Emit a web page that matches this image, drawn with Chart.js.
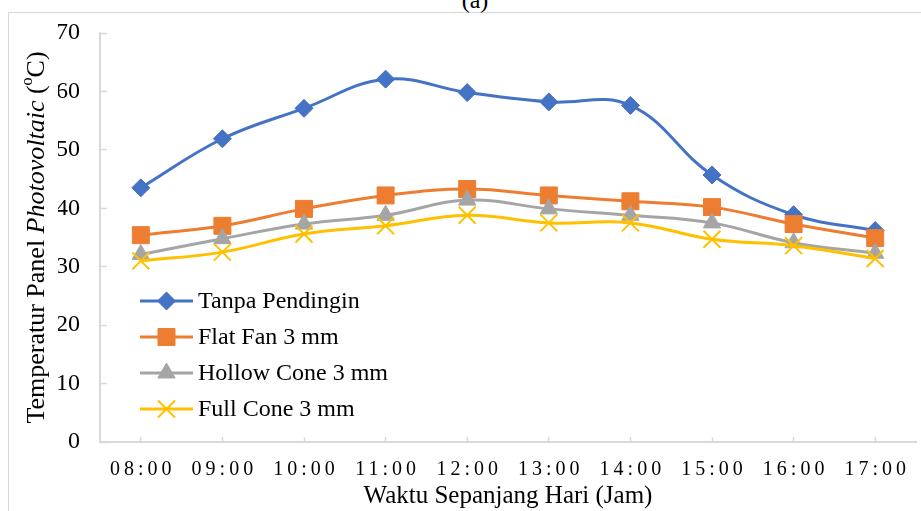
<!DOCTYPE html>
<html>
<head>
<meta charset="utf-8">
<script src="https://cdn.jsdelivr.net/npm/chart.js@4/dist/chart.umd.min.js"></script>
<style>
    body { margin: 0; background: #fff; }
    #wrap { position: relative; width: 921px; height: 511px; overflow: hidden; }
    #frame { position: absolute; left: 8px; top: 12px; width: 930px; height: 520px; border: 1.5px solid #d9d9d9; }
    #label { position: absolute; left: 0; width: 950px; top: -13px; text-align: center; font: 24px "Liberation Serif", serif; color: #000; }
    canvas { position: absolute; left: 0; top: 0; }
</style>
</head>
<body>
<div id="wrap">
    <div id="frame"></div>
    <div id="label">(a)</div>
    <canvas id="tempChart" width="921" height="511"></canvas>
</div>
<script>
// ============================================
// DATA
// ============================================
const jam = ['08:00', '09:00', '10:00', '11:00', '12:00', '13:00', '14:00', '15:00', '16:00', '17:00'];

const tanpaPendingin = [43.5, 51.9, 57.1, 62.1, 59.8, 58.2, 57.6, 45.7, 38.9, 36.2];
const flatFan = [35.4, 37.0, 39.9, 42.2, 43.3, 42.2, 41.2, 40.2, 37.3, 34.9];
const hollowCone = [32.1, 34.8, 37.3, 38.8, 41.4, 39.9, 38.8, 37.5, 34.1, 32.3];
const fullCone = [31.0, 32.5, 35.6, 37.0, 38.8, 37.5, 37.5, 34.7, 33.6, 31.4];

const seriesNames = ['Tanpa Pendingin', 'Flat Fan 3 mm', 'Hollow Cone 3 mm', 'Full Cone 3 mm'];
const seriesColors = ['#4472C4', '#ED7D31', '#A5A5A5', '#FFC000'];

const FONT = '"Liberation Serif", "Times New Roman", serif';

// ============================================
// DATASETS
// ============================================
const markerStyles = [
    { pointStyle: 'rectRot', pointRadius: 9, pointBorderWidth: 1 },
    { pointStyle: 'rect', pointRadius: 12, pointBorderWidth: 1 },
    { pointStyle: 'triangle', pointRadius: 10, pointBorderWidth: 1 },
    { pointStyle: 'crossRot', pointRadius: 12, pointBorderWidth: 2 }
];

const seriesData = [tanpaPendingin, flatFan, hollowCone, fullCone];

const datasets = seriesData.map((values, i) => ({
    label: seriesNames[i],
    data: values,
    borderColor: seriesColors[i],
    backgroundColor: seriesColors[i],
    pointBackgroundColor: seriesColors[i],
    pointBorderColor: seriesColors[i],
    borderWidth: 3,
    tension: 0.4,
    order: 4 - i,
    ...markerStyles[i]
}));

// ============================================
// PLUGINS
// ============================================
// wider letter spacing on the hour labels
const spacedTicks = {
    id: 'spacedTicks',
    beforeDraw(chart) {
        const scale = chart.scales.x;
        if (scale._spaced) return;
        const orig = scale.drawLabels.bind(scale);
        scale.drawLabels = function(area) {
            const ctx = this.ctx;
            ctx.save();
            ctx.letterSpacing = '4px';
            ctx.translate(2, 0);
            orig(area);
            ctx.restore();
        };
        scale._spaced = true;
    }
};

// y title with italic word and superscript
const yTitle = {
    id: 'yTitle',
    afterDraw(chart) {
        const ctx = chart.ctx;
        const parts = [
            { text: 'Temperatur Panel ', font: '26px ' + FONT, dy: 0 },
            { text: 'Photovoltaic', font: 'italic 26px ' + FONT, dy: 0 },
            { text: ' (', font: '26px ' + FONT, dy: 0 },
            { text: 'o', font: '16px ' + FONT, dy: -9 },
            { text: 'C)', font: '26px ' + FONT, dy: 0 }
        ];
        let total = 0;
        parts.forEach(p => { ctx.font = p.font; p.w = ctx.measureText(p.text).width; total += p.w; });
        ctx.save();
        ctx.translate(36, (chart.chartArea.top + chart.chartArea.bottom) / 2);
        ctx.rotate(-Math.PI / 2);
        ctx.fillStyle = '#000';
        ctx.textBaseline = 'middle';
        let x = -total / 2;
        parts.forEach(p => {
            ctx.font = p.font;
            ctx.fillText(p.text, x, p.dy + 1);
            x += p.w;
        });
        ctx.restore();
    }
};

// legend with line + marker, inside the plot
const lineLegend = {
    id: 'lineLegend',
    afterDraw(chart) {
        const ctx = chart.ctx;
        const x0 = 140, x1 = 193, top = 301, step = 36;
        ctx.save();
        datasets.forEach((ds, i) => {
            const y = top + i * step;
            ctx.strokeStyle = ds.borderColor;
            ctx.lineWidth = 3;
            ctx.beginPath();
            ctx.moveTo(x0, y);
            ctx.lineTo(x1, y);
            ctx.stroke();
            ctx.fillStyle = ds.backgroundColor;
            ctx.lineWidth = ds.pointBorderWidth;
            Chart.helpers.drawPoint(ctx, {
                pointStyle: ds.pointStyle,
                radius: ds.pointRadius,
                rotation: 0,
                borderWidth: ds.pointBorderWidth
            }, (x0 + x1) / 2, y);
            ctx.fillStyle = '#000';
            ctx.font = '24px ' + FONT;
            ctx.textBaseline = 'middle';
            ctx.fillText(ds.label, 198, y + 1);
        });
        ctx.restore();
    }
};

// ============================================
// CHART
// ============================================
const ctx = document.getElementById('tempChart').getContext('2d');
const tempChart = new Chart(ctx, {
    type: 'line',
    data: {
        labels: jam,
        datasets: datasets
    },
    options: {
        responsive: false,
        animation: false,
        layout: {
            autoPadding: false,
            padding: { left: 58, right: 5, top: 33, bottom: 0 }
        },
        plugins: {
            legend: { display: false },
            tooltip: { enabled: false }
        },
        scales: {
            x: {
                offset: true,
                afterFit: scale => {
                    scale.height = 69;
                    scale.paddingLeft = 0;
                    scale.paddingRight = 0;
                },
                grid: {
                    display: true,
                    drawOnChartArea: false,
                    drawTicks: true,
                    tickLength: -5,
                    tickWidth: 1.5,
                    tickColor: '#d9d9d9',
                    offset: false
                },
                border: { color: '#d9d9d9', width: 2 },
                ticks: {
                    color: '#000',
                    font: { family: FONT, size: 20 },
                    padding: 21,
                    maxRotation: 0
                },
                title: {
                    display: true,
                    text: 'Waktu Sepanjang Hari (Jam)',
                    color: '#000',
                    font: { family: FONT, size: 25 },
                    padding: { top: 0, bottom: 0 }
                }
            },
            y: {
                min: 0,
                max: 70,
                afterFit: scale => {
                    scale.width = 42;
                    scale.paddingTop = 0;
                    scale.paddingBottom = 0;
                },
                ticks: {
                    stepSize: 10,
                    color: '#000',
                    font: { family: FONT, size: 24 },
                    padding: 27
                },
                grid: {
                    display: true,
                    drawOnChartArea: false,
                    drawTicks: true,
                    tickLength: -7,
                    tickWidth: 1.5,
                    tickColor: '#d9d9d9'
                },
                border: { color: '#d9d9d9', width: 2 }
            }
        }
    },
    plugins: [spacedTicks, yTitle, lineLegend]
});

console.log('chart ready', tempChart.chartArea);
</script>
</body>
</html>
